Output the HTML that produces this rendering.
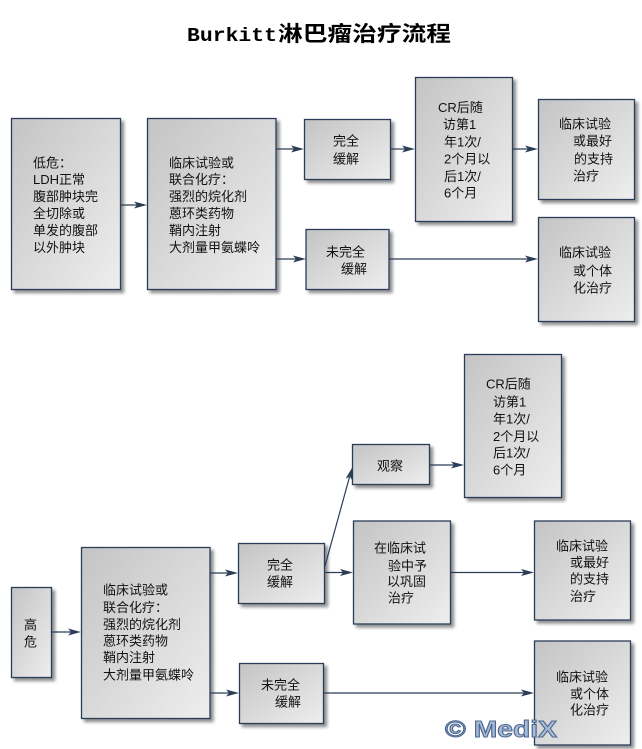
<!DOCTYPE html>
<html>
<head>
<meta charset="utf-8">
<style>
  html,body{margin:0;padding:0;background:#fff;}
  body{width:642px;height:749px;overflow:hidden;}
  svg{display:block;}
  .t{font-family:"Liberation Sans","Noto Sans CJK SC","WenQuanYi Zen Hei",sans-serif;font-size:13px;fill:#111;}
</style>
</head>
<body>
<svg width="642" height="749" viewBox="0 0 642 749" xmlns="http://www.w3.org/2000/svg">
  <defs>
    <linearGradient id="g" x1="0" y1="0" x2="1" y2="1">
      <stop offset="0" stop-color="#c4c4c4"/>
      <stop offset="1" stop-color="#eeeeee"/>
    </linearGradient>
    <filter id="sh" x="-10%" y="-10%" width="130%" height="130%">
      <feGaussianBlur in="SourceAlpha" stdDeviation="1.6"/>
      <feOffset dx="3" dy="3" result="o"/>
      <feComponentTransfer><feFuncA type="linear" slope="0.45"/></feComponentTransfer>
      <feMerge><feMergeNode/><feMergeNode in="SourceGraphic"/></feMerge>
    </filter>
  </defs>

  <!-- Title -->
  <text x="187" y="41" textLength="90" lengthAdjust="spacingAndGlyphs" style="font-family:'Liberation Mono',monospace;font-weight:bold;font-size:19px;fill:#000;">Burkitt</text>
  <text x="278" y="41" textLength="173" lengthAdjust="spacingAndGlyphs" style="font-family:'Noto Sans CJK SC','WenQuanYi Zen Hei',sans-serif;font-weight:bold;font-size:21px;fill:#000;">淋巴瘤治疗流程</text>

  <!-- Boxes -->
  <g fill="url(#g)" stroke="#2b3d56" stroke-width="1.3" filter="url(#sh)">
    <rect x="11.5" y="118.5" width="109" height="171"/>
    <rect x="147.5" y="118.5" width="128.5" height="171"/>
    <rect x="304.5" y="119.5" width="86" height="60"/>
    <rect x="415.5" y="77.5" width="97" height="144"/>
    <rect x="538.5" y="99.5" width="96" height="100"/>
    <rect x="306" y="229.5" width="83" height="60"/>
    <rect x="538.5" y="217.5" width="96" height="104"/>

    <rect x="11.5" y="587.5" width="40" height="90"/>
    <rect x="81.5" y="547.5" width="128.5" height="171"/>
    <rect x="238.5" y="543.5" width="86" height="60"/>
    <rect x="239.5" y="663.5" width="84" height="60"/>
    <rect x="352.5" y="444.5" width="77" height="40"/>
    <rect x="464.5" y="354.5" width="97" height="143"/>
    <rect x="353.5" y="521" width="97" height="103"/>
    <rect x="534.5" y="521" width="96" height="99"/>
    <rect x="534.5" y="641" width="96" height="104"/>
  </g>

  <!-- Connectors -->
  <g stroke="#2b3d56" stroke-width="1.2" fill="none">
    <line x1="121" y1="205" x2="140" y2="205"/>
    <line x1="276" y1="149" x2="296" y2="149"/>
    <line x1="276" y1="259" x2="298" y2="259"/>
    <line x1="391" y1="149" x2="407" y2="149"/>
    <line x1="513" y1="149" x2="530" y2="149"/>
    <line x1="389" y1="259" x2="530" y2="259"/>

    <line x1="52" y1="632" x2="74" y2="632"/>
    <line x1="210" y1="573" x2="231" y2="573"/>
    <line x1="210" y1="693" x2="232" y2="693"/>
    <line x1="325" y1="572.5" x2="346" y2="572.5"/>
    <line x1="325" y1="566" x2="349.5" y2="477"/>
    <line x1="429.5" y1="465" x2="457" y2="465"/>
    <line x1="450.5" y1="572.5" x2="527" y2="572.5"/>
    <line x1="324" y1="693" x2="527" y2="693"/>
  </g>
  <g fill="#2b3d56">
    <polygon points="147,205 134,201.5 137,205 134,208.5"/>
    <polygon points="304,149 291,145.5 294,149 291,152.5"/>
    <polygon points="306,259 293,255.5 296,259 293,262.5"/>
    <polygon points="415,149 402,145.5 405,149 402,152.5"/>
    <polygon points="538,149 525,145.5 528,149 525,152.5"/>
    <polygon points="538,259 525,255.5 528,259 525,262.5"/>

    <polygon points="81,632 68,628.5 71,632 68,635.5"/>
    <polygon points="238,573 225,569.5 228,573 225,576.5"/>
    <polygon points="239,693 226,689.5 229,693 226,696.5"/>
    <polygon points="353,572.5 340,569 343,572.5 340,576"/>
    <polygon points="352.5,467 352.4,480.5 349.8,476.6 345.6,478.6"/>
    <polygon points="464,465 451,461.5 454,465 451,468.5"/>
    <polygon points="534,572.5 521,569 524,572.5 521,576"/>
    <polygon points="534,693 521,689.5 524,693 521,696.5"/>
  </g>

  <!-- Texts top -->
  <g class="t">
    <text x="33" y="167.5">低危：</text>
    <text x="33" y="184">LDH正常</text>
    <text x="33" y="201">腹部肿块完</text>
    <text x="33" y="218">全切除或</text>
    <text x="33" y="235">单发的腹部</text>
    <text x="33" y="252">以外肿块</text>

    <text x="169" y="167.5">临床试验或</text>
    <text x="169" y="184">联合化疗：</text>
    <text x="169" y="201">强烈的烷化剂</text>
    <text x="169" y="218">蒽环类药物</text>
    <text x="169" y="235">鞘内注射</text>
    <text x="169" y="252">大剂量甲氨蝶呤</text>

    <text x="333" y="145.5">完全</text>
    <text x="333" y="163.5">缓解</text>

    <text x="438" y="112">CR后随</text>
    <text x="443" y="129">访第1</text>
    <text x="444" y="146.5">年1次/</text>
    <text x="444" y="163.5">2个月以</text>
    <text x="444" y="181">后1次/</text>
    <text x="444" y="197.5">6个月</text>

    <text x="559" y="128.5">临床试验</text>
    <text x="573" y="145.5">或最好</text>
    <text x="574" y="163.5">的支持</text>
    <text x="573" y="180.5">治疗</text>

    <text x="326" y="256.5">未完全</text>
    <text x="341" y="273.5">缓解</text>

    <text x="559" y="257">临床试验</text>
    <text x="573" y="275.5">或个体</text>
    <text x="573" y="292.5">化治疗</text>
  </g>

  <!-- Texts bottom -->
  <g class="t">
    <text x="24" y="629.5">高</text>
    <text x="24" y="646.5">危</text>

    <text x="103" y="594.5">临床试验或</text>
    <text x="103" y="612">联合化疗：</text>
    <text x="103" y="629">强烈的烷化剂</text>
    <text x="103" y="645.5">蒽环类药物</text>
    <text x="103" y="662">鞘内注射</text>
    <text x="103" y="679.5">大剂量甲氨蝶呤</text>

    <text x="267" y="569.5">完全</text>
    <text x="267" y="586.5">缓解</text>

    <text x="261" y="689.5">未完全</text>
    <text x="275" y="706.5">缓解</text>

    <text x="377" y="470.5">观察</text>

    <text x="486" y="388.5">CR后随</text>
    <text x="493" y="406.5">访第1</text>
    <text x="493" y="423.5">年1次/</text>
    <text x="493" y="441">2个月以</text>
    <text x="493" y="457.5">后1次/</text>
    <text x="493" y="474.5">6个月</text>

    <text x="374" y="552.5">在临床试</text>
    <text x="388" y="570.5">验中予</text>
    <text x="387" y="586">以巩固</text>
    <text x="388" y="602.5">治疗</text>

    <text x="556" y="550.5">临床试验</text>
    <text x="570" y="567">或最好</text>
    <text x="570" y="583.5">的支持</text>
    <text x="570" y="601">治疗</text>

    <text x="556" y="681.5">临床试验</text>
    <text x="570" y="698.5">或个体</text>
    <text x="570" y="714.5">化治疗</text>
  </g>

  <!-- Watermark -->
  <text x="445" y="737" textLength="112" lengthAdjust="spacingAndGlyphs" style="font-family:'Liberation Sans',sans-serif;font-weight:bold;font-size:23px;fill:#a8bcd9;stroke:#4e6790;stroke-width:1;">© MediX</text>
</svg>
</body>
</html>
